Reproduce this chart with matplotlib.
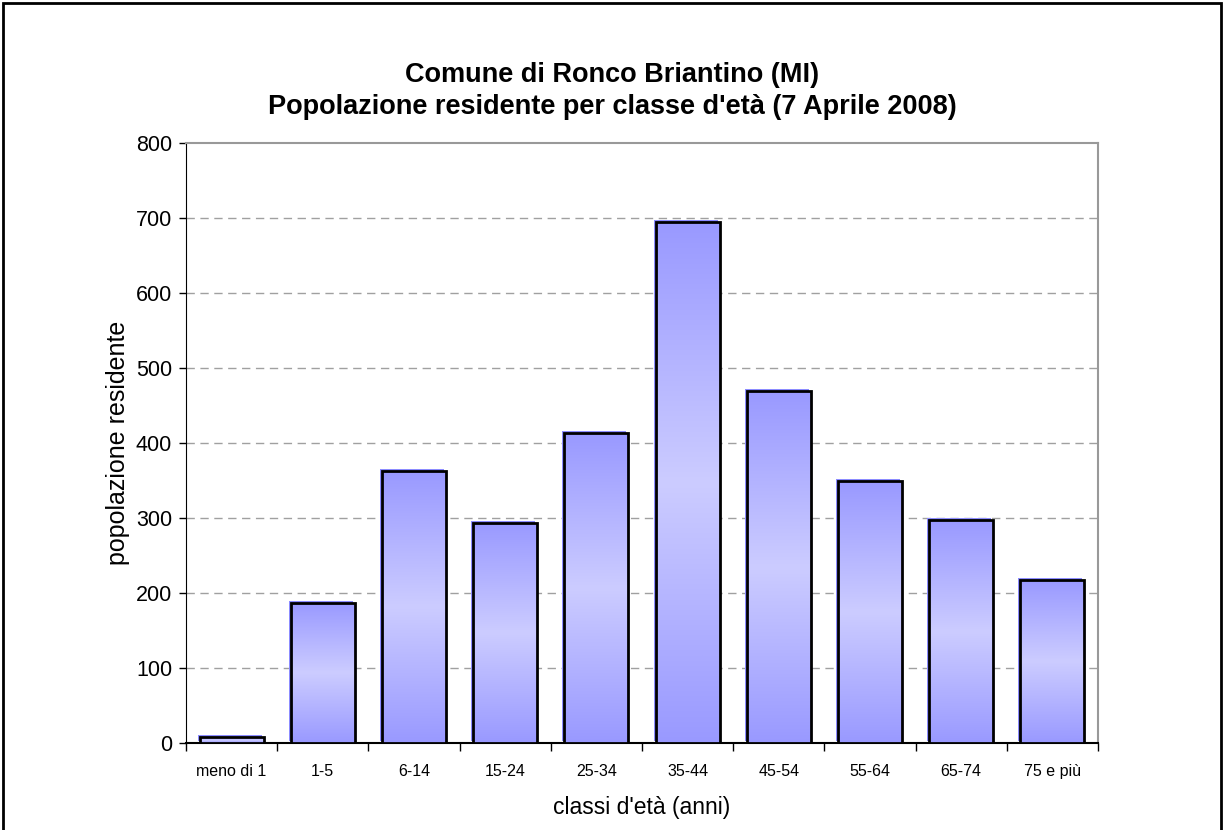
#!/usr/bin/env python3
import numpy as np
from matplotlib import pyplot as plt
from matplotlib.patches import Rectangle
from matplotlib.colors import LinearSegmentedColormap
from matplotlib.transforms import ScaledTranslation

plt.rcParams['font.family'] = ['Liberation Sans', 'DejaVu Sans']

classes = ['meno di 1', '1-5', '6-14', '15-24', '25-34',
           '35-44', '45-54', '55-64', '65-74', '75 e più']
residents = [8, 187, 363, 294, 413, 694, 469, 349, 297, 218]
y_ticks = [0, 100, 200, 300, 400, 500, 600, 700, 800]

title = "Comune di Ronco Briantino (MI)\nPopolazione residente per classe d'età (7 Aprile 2008)"


def main():
    fig = plt.figure(figsize=(12.24, 8.3), dpi=100)
    ax = fig.add_axes([186 / 1224, 1 - 743 / 830, 912 / 1224, 600 / 830])

    # black frame round the whole chart
    fig.patches.append(Rectangle((3 / 1224, -0.05), 1218 / 1224, 1.05 - 3 / 830,
                                 transform=fig.transFigure, fill=False,
                                 edgecolor='black', linewidth=2, zorder=0))

    xs = np.arange(len(classes))
    width = 0.70

    # light blue shadow, shifted up and left
    shadow = ax.bar(xs, residents, width=width, color='#8c8cff', zorder=2)
    shift = ScaledTranslation(-2 / 100, 2 / 100, fig.dpi_scale_trans)
    for p in shadow:
        p.set_transform(ax.transData + shift)

    bars = ax.bar(xs, residents, width=width, facecolor='none',
                  edgecolor='black', linewidth=2, zorder=4)

    cmap = LinearSegmentedColormap.from_list(
        'band', [(0, '#9999ff'), (0.5, '#ccccff'), (1, '#9999ff')])
    grad = np.linspace(0, 1, 256).reshape(-1, 1)
    for b in bars:
        x0, h = b.get_x(), b.get_height()
        im = ax.imshow(grad, cmap=cmap, aspect='auto', origin='lower',
                       extent=(x0, x0 + b.get_width(), 0, h), zorder=3)
        im.set_clip_path(b)

    ax.set_xlim(-0.5, len(classes) - 0.5)
    ax.set_ylim(0, 800)
    ax.set_yticks(y_ticks)
    ax.set_yticklabels([str(t) for t in y_ticks], fontsize=15.5)
    ax.set_xticks(xs)
    ax.set_xticklabels(classes, fontsize=11.5)
    ax.tick_params(axis='x', length=0, pad=15)
    ax.set_xticks(np.arange(-0.5, len(classes)), minor=True)
    ax.tick_params(axis='x', which='minor', length=6, width=1, direction='out')
    ax.tick_params(axis='y', length=5, width=1, direction='out', pad=5)

    for v in y_ticks[1:-1]:
        ax.axhline(v, color='#a0a0a0', linestyle=(0, (6, 4)), linewidth=1, zorder=1)

    ax.spines['left'].set_color('black')
    ax.spines['bottom'].set_color('black')
    ax.spines['bottom'].set_linewidth(1.5)
    ax.spines['top'].set_color('#999999')
    ax.spines['right'].set_color('#999999')
    ax.spines['top'].set_linewidth(1.5)
    ax.spines['right'].set_linewidth(1.5)

    ax.set_ylabel('popolazione residente', fontsize=18, labelpad=4)
    ax.set_xlabel("classi d'età (anni)", fontsize=16.5, labelpad=12)

    fig.text(0.5, 1 - 91 / 830, title, ha='center', va='center',
             fontsize=19.5, fontweight='bold', linespacing=1.35)

    fig.savefig('out.png', dpi=100)


if __name__ == "__main__":
    main()
